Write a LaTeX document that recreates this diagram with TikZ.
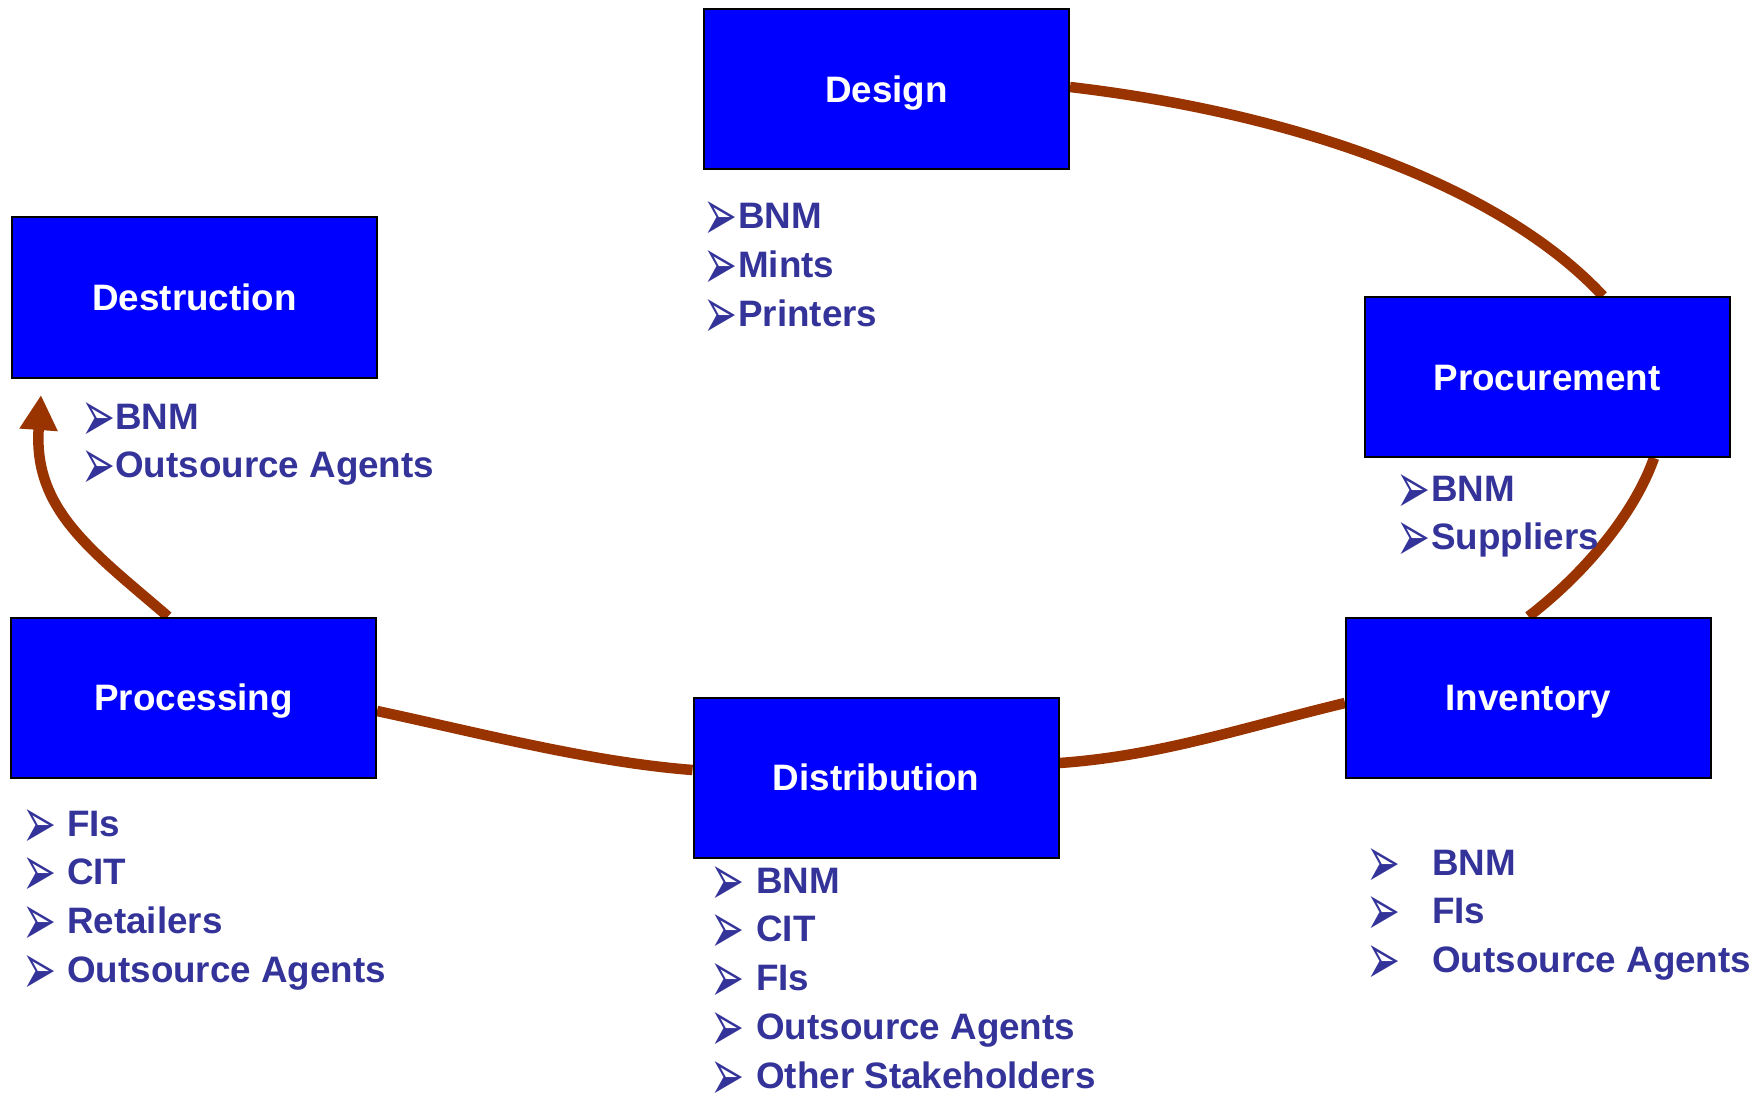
\documentclass[tikz,border=0pt]{standalone}
\usepackage{fontspec}
\setmainfont{Liberation Sans}
\newfontfamily\dejavu{DejaVu Sans}
\usetikzlibrary{arrows.meta}
\pgfdeclarelayer{background}
\pgfsetlayers{background,main}
\definecolor{boxblue}{RGB}{0,0,255}
\definecolor{loopbrown}{RGB}{153,51,0}
\definecolor{listblue}{RGB}{51,51,153}
\newcommand\lbul[1]{\makebox[#1][l]{\hspace{-7pt}\raisebox{-12pt}{\resizebox*{34pt}{39pt}{\dejavu\mdseries ➢}}}}
\begin{document}
\begin{tikzpicture}[x=1pt,y=-1pt,
  stage/.style={draw=black, line width=2pt, fill=boxblue, minimum width=365pt,
    minimum height=160pt, inner sep=0pt, text=white, text height=26.5pt, text depth=0pt,
    font=\fontsize{36.8}{44}\selectfont\bfseries},
  itemlist/.style={anchor=base west, inner sep=0pt, text=listblue,
    font=\fontsize{36.8}{48.8}\selectfont\bfseries},
  cyclepath/.style={draw=loopbrown, line width=10.5pt}]
\useasboundingbox (0,0) rectangle (1759,1094);

\node[stage] (design)       at (886.5,89)   {Design};
\node[stage] (destruction)  at (194.5,297.5) {Destruction};
\node[stage] (procurement)  at (1547,377)   {Procurement};
\node[stage] (processing)   at (193.5,697.5) {Processing};
\node[stage] (distribution) at (876,777.5)  {Distribution};
\node[stage] (inventory)    at (1528.5,697.5) {Inventory};
\coordinate (tip) at (41,395);

\begin{pgfonlayer}{background}
\draw[cyclepath] ([yshift=2pt]design.east) .. controls (1308,115) and (1505.5,191) .. ([xshift=56pt]procurement.north);
\draw[cyclepath] ([xshift=107pt]procurement.south) .. controls (1635,512) and (1586.5,572) .. (inventory.north);
\draw[cyclepath] ([yshift=-5.5pt]inventory.west) .. controls (1245,727) and (1160,756) .. ([yshift=14.5pt]distribution.east);
\draw[cyclepath] ([yshift=7.5pt]distribution.west) .. controls (590,762) and (480,733) .. ([yshift=-13.5pt]processing.east);
\draw[cyclepath, -{Triangle[length=35pt,width=36pt]}] ([xshift=-25.5pt]processing.north) .. controls (92,551) and (33,510) .. (tip);
\end{pgfonlayer}

\node[itemlist] (designlist) at (710,229) {\vtop{\hbox{\lbul{28pt}BNM}\hbox{\lbul{28pt}Mints}\hbox{\lbul{28pt}Printers}}};
\node[itemlist] (destructionlist) at (88,429) {\vtop{\hbox{\lbul{27pt}BNM}\hbox{\lbul{27pt}Outsource Agents}}};
\node[itemlist] (procurementlist) at (1403,501) {\vtop{\hbox{\lbul{28pt}BNM}\hbox{\lbul{28pt}Suppliers}}};
\node[itemlist] (processinglist) at (29,836) {\vtop{\hbox{\lbul{38pt}FIs}\hbox{\lbul{38pt}CIT}\hbox{\lbul{38pt}Retailers}\hbox{\lbul{38pt}Outsource Agents}}};
\node[itemlist] (distributionlist) at (717,893) {\vtop{\hbox{\lbul{39pt}BNM}\hbox{\lbul{39pt}CIT}\hbox{\lbul{39pt}FIs}\hbox{\lbul{39pt}Outsource Agents}\hbox{\lbul{39pt}Other Stakeholders}}};
\node[itemlist] (inventorylist) at (1373,875) {\vtop{\hbox{\lbul{59pt}BNM}\hbox{\lbul{59pt}FIs}\hbox{\lbul{59pt}Outsource Agents}}};
\end{tikzpicture}
\end{document}
